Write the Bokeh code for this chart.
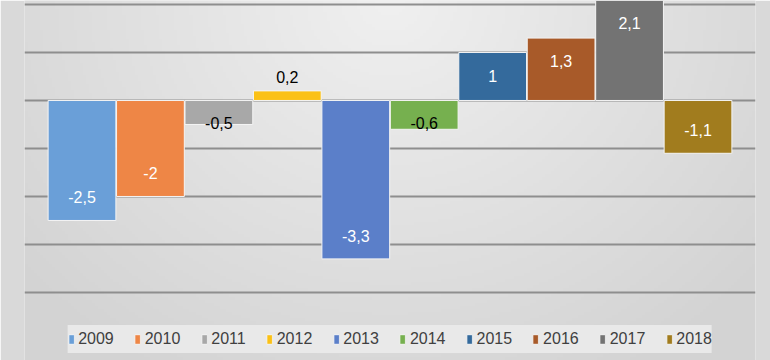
import numpy as np
from bokeh.plotting import figure
from bokeh.models import ColumnDataSource, Legend, LegendItem, FixedTicker, Range1d
from bokeh.core.properties import value
from bokeh.embed import file_html
from bokeh.resources import INLINE

years = ["2009", "2010", "2011", "2012", "2013", "2014", "2015", "2016", "2017", "2018"]
values = [-2.5, -2.0, -0.5, 0.2, -3.3, -0.6, 1.0, 1.3, 2.1, -1.1]
labels = ["-2,5", "-2", "-0,5", "0,2", "-3,3", "-0,6", "1", "1,3", "2,1", "-1,1"]
colors = ["#6a9fd8", "#ee8646", "#a8a8a8", "#fbc116", "#5b7fc9", "#76b04f",
          "#346a9c", "#a85a29", "#737373", "#a17c1e"]
grid_ticks = [-4, -3, -2, -1, 0, 1, 2]

FONT = "Liberation Sans"

xs = list(range(len(years)))
label_y = [max(v - 0.48, 0.48) if v > 0 else min(v + 0.48, -0.46) for v in values]
label_col = ["white" if abs(v) >= 1 else "black" for v in values]

src = ColumnDataSource(dict(x=xs, v=values, color=colors, year=years,
                            label=labels, ly=label_y, lc=label_col))

xr = Range1d(-0.84, 9.84)
yr = Range1d(-5.417, 2.083)
p = figure(width=770, height=360, output_backend="svg", toolbar_location=None,
           x_range=xr, y_range=yr,
           min_border_left=24, min_border_right=15, min_border_top=0, min_border_bottom=0)
p.background_fill_color = "#e4e4e4"
p.border_fill_color = "#d9d9d9"
p.outline_line_color = None
p.xaxis.visible = False
p.yaxis.visible = False
p.xgrid.grid_line_color = None
p.ygrid.ticker = FixedTicker(ticks=grid_ticks)
p.ygrid.grid_line_color = "#8e8e8e"
p.ygrid.grid_line_width = 2

# soft radial background shading (decoration)
H, W = 120, 240
u = np.linspace(0, 1, W)[None, :]
v = np.linspace(0, 1, H)[:, None]
d = np.sqrt(((u - 0.5) / 0.55) ** 2 + ((1 - v) / 1.0) ** 2)
g = (240 - 24 * np.minimum(d, 1.2)).astype(np.uint8)
img = np.empty((H, W), dtype=np.uint32)
view = img.view(dtype=np.uint8).reshape((H, W, 4))
view[:, :, 0] = g
view[:, :, 1] = g
view[:, :, 2] = g
view[:, :, 3] = 255
p.image_rgba(image=[img], x=xr.start, y=yr.start, dw=xr.end - xr.start,
             dh=yr.end - yr.start, level="image")

r = p.vbar(x="x", top="v", bottom=0, width=0.99, fill_color="color",
           line_color="#f4f4f4", line_width=1, source=src)

p.text(x="x", y="ly", text="label", text_color="lc", source=src,
       text_align="center", text_baseline="middle",
       text_font=value(FONT), text_font_size="16px")

items = [LegendItem(label=years[i], renderers=[r], index=i) for i in range(len(years))]
legend = Legend(items=items, orientation="horizontal", location="bottom_center",
                glyph_width=7, glyph_height=12, label_standoff=4, spacing=20,
                padding=7, margin=7, label_height=28,
                background_fill_color="#e9e9e9", background_fill_alpha=1.0,
                border_line_color=None,
                label_text_font=FONT, label_text_font_size="16px",
                label_text_color="#404040")
p.add_layout(legend, "center")

open("out.html", "w").write(file_html(p, INLINE))
